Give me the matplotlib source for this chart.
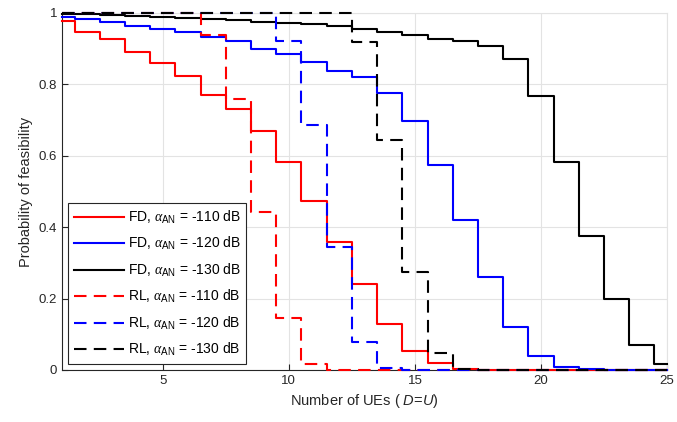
#!/usr/bin/env python3
import numpy as np
import matplotlib
matplotlib.use('Agg')
import matplotlib.pyplot as plt

plt.rcParams['font.family'] = ['Liberation Sans', 'DejaVu Sans']
plt.rcParams['mathtext.fontset'] = 'custom'
plt.rcParams['mathtext.rm'] = 'Liberation Sans'
plt.rcParams['mathtext.it'] = 'Liberation Serif:italic'
plt.rcParams['mathtext.sf'] = 'Liberation Sans:italic'

ues = np.arange(1, 26)

fd_110 = [0.978, 0.948, 0.926, 0.892, 0.861, 0.824, 0.770, 0.730, 0.669, 0.583,
          0.474, 0.359, 0.240, 0.128, 0.053, 0.019, 0.004, 0.001, 0, 0,
          0, 0, 0, 0, 0]
fd_120 = [0.990, 0.982, 0.976, 0.964, 0.956, 0.946, 0.933, 0.922, 0.898, 0.885,
          0.862, 0.838, 0.820, 0.775, 0.698, 0.575, 0.420, 0.261, 0.121, 0.040,
          0.009, 0.002, 0, 0, 0]
fd_130 = [0.998, 0.996, 0.993, 0.991, 0.989, 0.986, 0.983, 0.980, 0.976, 0.973,
          0.968, 0.964, 0.955, 0.946, 0.939, 0.927, 0.922, 0.908, 0.870, 0.768,
          0.583, 0.375, 0.198, 0.070, 0.016]
rl_110 = [1, 1, 1, 1, 1, 1, 0.938, 0.758, 0.443, 0.146,
          0.016, 0.001, 0, 0, 0, 0, 0, 0, 0, 0,
          0, 0, 0, 0, 0]
rl_120 = [1, 1, 1, 1, 1, 1, 1, 1, 1, 0.922,
          0.686, 0.345, 0.078, 0.006, 0, 0, 0, 0, 0, 0,
          0, 0, 0, 0, 0]
rl_130 = [1, 1, 1, 1, 1, 1, 1, 1, 1, 1,
          1, 1, 0.918, 0.644, 0.275, 0.047, 0.002, 0, 0, 0,
          0, 0, 0, 0, 0]

series = [
    (fd_110, 'red', '-', 'FD, $\\alpha_{\\rm AN}$ = -110 dB'),
    (fd_120, 'blue', '-', 'FD, $\\alpha_{\\rm AN}$ = -120 dB'),
    (fd_130, 'black', '-', 'FD, $\\alpha_{\\rm AN}$ = -130 dB'),
    (rl_110, 'red', '--', 'RL, $\\alpha_{\\rm AN}$ = -110 dB'),
    (rl_120, 'blue', '--', 'RL, $\\alpha_{\\rm AN}$ = -120 dB'),
    (rl_130, 'black', '--', 'RL, $\\alpha_{\\rm AN}$ = -130 dB'),
]

fig = plt.figure(figsize=(6.77, 4.22), dpi=100)
ax = fig.add_axes([62/677, 1 - 370/422, (667-62)/677, (370-13)/422])

for vals, col, ls, lab in series:
    line, = ax.step(ues, vals, where='mid', color=col, linestyle=ls, lw=1.5,
                    label=lab, clip_on=False, zorder=3)
    if ls == '--':
        line.set_dashes((6, 3.5))

ax.set_xlim(1, 25)
ax.set_ylim(0, 1)
ax.set_xticks([5, 10, 15, 20, 25])
ax.set_yticks([0, 0.2, 0.4, 0.6, 0.8, 1])
ax.set_yticklabels(['0', '0.2', '0.4', '0.6', '0.8', '1'])
ax.grid(True, color='#e3e3e3', lw=0.8)
ax.set_axisbelow(True)
for s in ['top', 'right']:
    ax.spines[s].set_color('#e3e3e3')
for s in ['left', 'bottom']:
    ax.spines[s].set_color('#262626')
ax.tick_params(direction='in', length=4, labelsize=9.5, colors='#262626',
               top=False, right=False)
ax.set_xlabel('Number of UEs ( $\\mathsf{D}$=$\\mathsf{U}$)', fontsize=10.5, color='#262626')
ax.set_ylabel('Probability of feasibility', fontsize=10.5, color='#262626')

leg = ax.legend(loc='lower left', bbox_to_anchor=(6/605, 6/357), fontsize=10,
                handlelength=3.6, labelspacing=0.68, borderpad=0.4,
                handletextpad=0.3, fancybox=False, framealpha=1,
                edgecolor='#262626', borderaxespad=0)
leg.get_frame().set_linewidth(0.8)
leg.set_zorder(5)

fig.savefig('out.png', dpi=100)
